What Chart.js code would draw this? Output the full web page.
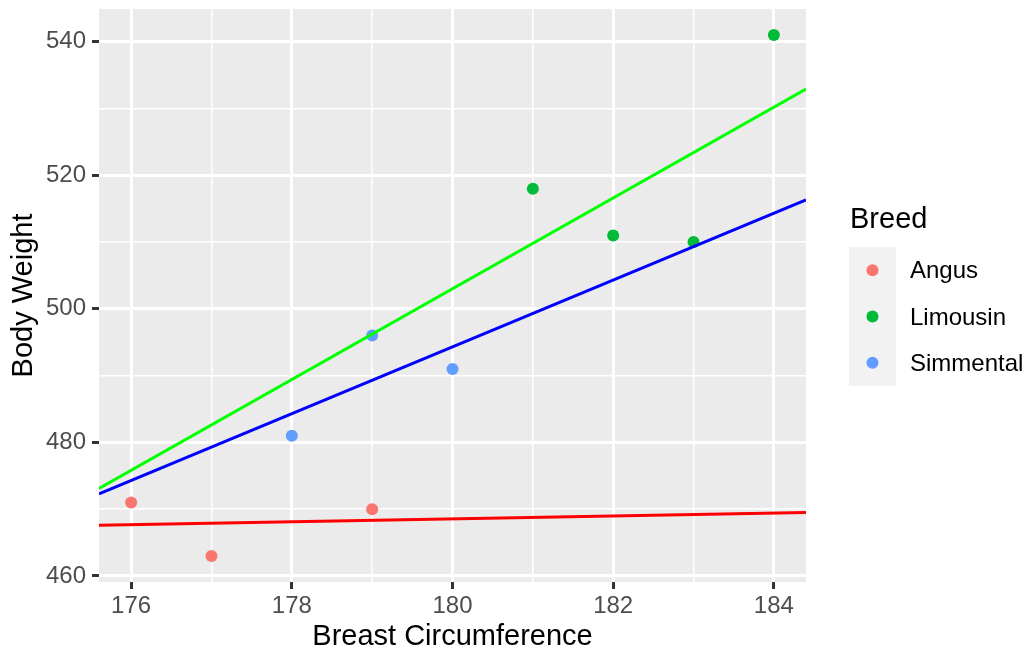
<!DOCTYPE html>
<html>
<head>
<meta charset="utf-8">
<script src="https://cdn.jsdelivr.net/npm/chart.js@4.4.0/dist/chart.umd.min.js"></script>
<style>
  html, body { margin: 0; padding: 0; background: #ffffff; }
  canvas { display: block; }
</style>
</head>
<body>
<canvas id="chart" width="1026" height="649"></canvas>
<script>
// data
var breeds = ['Angus', 'Limousin', 'Simmental'];
var angusX = [176, 177, 179];
var angusY = [471, 463, 470];
var limousinX = [181, 182, 183, 184];
var limousinY = [518, 511, 510, 541];
var simmentalX = [178, 179, 180];
var simmentalY = [481, 496, 491];

// fitted lines, value at each end of the panel
var fitX = [175.6, 184.4];
var angusFit = [467.6, 469.5];
var limousinFit = [473.1, 532.9];
var simmentalFit = [472.3, 516.3];

var xTicks = [176, 178, 180, 182, 184];
var xMinor = [177, 179, 181, 183];
var yTicks = [460, 480, 500, 520, 540];
var yMinor = [470, 490, 510, 530];

var xTitle = 'Breast Circumference';
var yTitle = 'Body Weight';
var legendTitle = 'Breed';

var pointColors = ['#F8766D', '#00BA38', '#619CFF'];
var lineColors = ['#FF0000', '#00FF00', '#0000FF'];
var FONT = '"Liberation Sans", Arial, Helvetica, sans-serif';

function pairs(xs, ys) {
  return xs.map(function(x, i) { return { x: x, y: ys[i] }; });
}

var pointSets = [[angusX, angusY], [limousinX, limousinY], [simmentalX, simmentalY]];
var fitSets = [angusFit, limousinFit, simmentalFit];

var datasets = [];
// lines first so they sit over the points
fitSets.forEach(function(f, i) {
  datasets.push({
    type: 'line',
    label: breeds[i] + ' fit',
    data: pairs(fitX, f),
    borderColor: lineColors[i],
    borderWidth: 3,
    pointRadius: 0,
    fill: false,
    order: 0
  });
});
pointSets.forEach(function(p, i) {
  datasets.push({
    type: 'scatter',
    label: breeds[i],
    data: pairs(p[0], p[1]),
    backgroundColor: pointColors[i],
    borderWidth: 0,
    pointRadius: 6,
    pointHoverRadius: 6,
    order: 1
  });
});

function allTicks(major, minor) {
  return major.concat(minor).sort(function(a, b) { return a - b; })
    .map(function(v) { return { value: v }; });
}

// grey panel
var panelBg = {
  id: 'panelBg',
  beforeDraw: function(chart) {
    var a = chart.chartArea, ctx = chart.ctx;
    ctx.save();
    ctx.fillStyle = '#EBEBEB';
    ctx.fillRect(a.left, a.top, a.right - a.left, a.bottom - a.top);
    ctx.restore();
  }
};

// ggplot style legend on the right
var sideLegend = {
  id: 'sideLegend',
  afterDraw: function(chart) {
    var ctx = chart.ctx;
    var sets = chart.data.datasets.filter(function(d) { return d.type === 'scatter'; });
    var left = 849, top = 247, keyW = 47, keyH = 46.3;
    ctx.save();
    ctx.textBaseline = 'middle';
    ctx.fillStyle = '#000000';
    ctx.font = '29px ' + FONT;
    ctx.fillText(legendTitle, 850, 220);
    ctx.fillStyle = '#F2F2F2';
    ctx.fillRect(left, top, keyW, keyH * sets.length);
    ctx.font = '24px ' + FONT;
    sets.forEach(function(d, i) {
      var cy = top + keyH * i + keyH / 2;
      ctx.beginPath();
      ctx.arc(left + keyW / 2, cy, 6, 0, Math.PI * 2);
      ctx.fillStyle = d.backgroundColor;
      ctx.fill();
      ctx.fillStyle = '#000000';
      ctx.fillText(d.label, 910, cy + 1.5);
    });
    ctx.restore();
  }
};

var ctx = document.getElementById('chart').getContext('2d');
var chart = new Chart(ctx, {
  data: { datasets: datasets },
  options: {
    responsive: false,
    animation: false,
    devicePixelRatio: 1,
    layout: { padding: { left: 0, top: 9, right: 220, bottom: 0 } },
    plugins: {
      legend: { display: false },
      tooltip: { enabled: false }
    },
    scales: {
      x: {
        type: 'linear',
        min: 175.6,
        max: 184.4,
        afterBuildTicks: function(scale) { scale.ticks = allTicks(xTicks, xMinor); },
        afterFit: function(scale) {
          scale.height = 67;
          scale.paddingLeft = 0;
          scale.paddingRight = 0;
        },
        border: { display: false },
        grid: {
          color: '#FFFFFF',
          lineWidth: function(c) { return xTicks.indexOf(c.tick.value) >= 0 ? 3 : 1.5; },
          tickLength: 7,
          tickWidth: 3,
          tickColor: function(c) { return xTicks.indexOf(c.tick.value) >= 0 ? '#333333' : 'rgba(0,0,0,0)'; }
        },
        ticks: {
          autoSkip: false,
          maxRotation: 0,
          padding: 3,
          color: '#4D4D4D',
          font: { family: FONT, size: 24 },
          callback: function(v) { return xTicks.indexOf(v) >= 0 ? String(v) : ''; }
        },
        title: {
          display: true,
          text: xTitle,
          color: '#000000',
          padding: { top: 0, bottom: 0 },
          font: { family: FONT, size: 29, lineHeight: 0.82 }
        }
      },
      y: {
        type: 'linear',
        min: 459.1,
        max: 544.9,
        afterBuildTicks: function(scale) { scale.ticks = allTicks(yTicks, yMinor); },
        afterFit: function(scale) {
          scale.width = 99;
          scale.paddingTop = 0;
          scale.paddingBottom = 0;
        },
        border: { display: false },
        grid: {
          color: '#FFFFFF',
          lineWidth: function(c) { return yTicks.indexOf(c.tick.value) >= 0 ? 3 : 1.5; },
          tickLength: 7,
          tickWidth: 3,
          tickColor: function(c) { return yTicks.indexOf(c.tick.value) >= 0 ? '#333333' : 'rgba(0,0,0,0)'; }
        },
        ticks: {
          autoSkip: false,
          padding: 6,
          color: '#4D4D4D',
          font: { family: FONT, size: 24 },
          callback: function(v) { return yTicks.indexOf(v) >= 0 ? String(v) : ''; }
        },
        title: {
          display: true,
          text: yTitle,
          color: '#000000',
          padding: { top: 9, bottom: 0 },
          font: { family: FONT, size: 29, lineHeight: 1 }
        }
      }
    }
  },
  plugins: [panelBg, sideLegend]
});
</script>
</body>
</html>
